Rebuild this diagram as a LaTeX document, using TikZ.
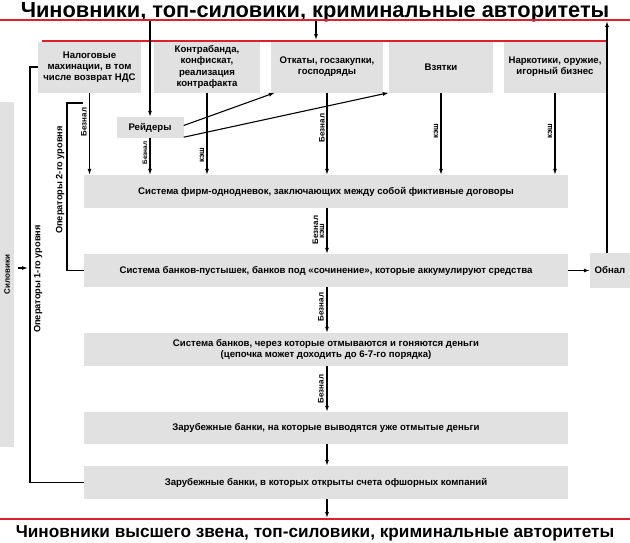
\documentclass[tikz,border=0pt]{standalone}
\usepackage{fontspec}
\setmainfont{Liberation Sans}
\usetikzlibrary{arrows.meta,calc,positioning}
\definecolor{LineRed}{RGB}{222,32,40}
\definecolor{BoxGray}{RGB}{225,225,225}
\tikzset{
  box/.style={fill=BoxGray, inner sep=0pt, align=center, font=\bfseries\fontsize{9.6}{11.2}\selectfont},
  lab/.style={rotate=90, inner sep=0pt, font=\bfseries\fontsize{8}{9}\selectfont},
  smalllab/.style={lab, font=\bfseries\fontsize{6.5}{7}\selectfont},
  oplab/.style={lab, font=\bfseries\fontsize{9.2}{10}\selectfont},
  arr/.style={-{Latex[length=6pt,width=4pt]}, line width=1.1pt},
  conn/.style={line width=1.1pt},
  redline/.style={LineRed, line width=1.6pt}
}
\begin{document}
\begin{tikzpicture}[x=1pt, y=-1pt]
	\useasboundingbox (0,0) rectangle (630,542);
	
	% заголовки и красные линии
	\node[anchor=base, inner sep=0pt, font=\bfseries\fontsize{21.8}{23}\selectfont] (top) at (315,17.5) {Чиновники, топ-силовики, криминальные авторитеты};
	\draw[redline] (0,20) -- (630,20);
	\draw[redline] (42,41) -- (607,41);
	\draw[redline] (0,519) -- (630,519);
	\node[anchor=base, inner sep=0pt, font=\bfseries\fontsize{17.2}{18}\selectfont] (bot) at (315,537) {Чиновники высшего звена, топ-силовики, криминальные авторитеты};
	\coordinate (t1) at (150,21);
	\coordinate (t2) at (316,21);
	\coordinate (t2b) at (316,40);
	\coordinate (ret) at (607,21);
	\coordinate (col) at (327,0);
	\coordinate (botrule) at (327,518);
	
	% верхний ряд
	\node[box, minimum width=103, minimum height=51] (nal) at (89.5,67) {Налоговые\\махинации, в том\\числе возврат НДС};
	\node[box, minimum width=106, minimum height=51] (kon) at (207,67) {Контрабанда,\\конфискат,\\реализация\\контрафакта};
	\node[box, minimum width=112, minimum height=51] (otk) at (327,67) {Откаты, госзакупки,\\господряды};
	\node[box, minimum width=104, minimum height=51] (vzt) at (441,67) {Взятки};
	\node[box, minimum width=103, minimum height=51] (nar) at (555,67) {Наркотики, оружие,\\игорный бизнес};
	\node[box, minimum width=67, minimum height=21] (rei) at (150,127.5) {Рейдеры};
	
	% цепочка банков
	\node[box, minimum width=484, minimum height=33] (fir) at (326,191.5) {Система фирм-однодневок, заключающих между собой фиктивные договоры};
	\node[box, minimum width=484, minimum height=33] (pus) at (326,270.5) {Система банков-пустышек, банков под «сочинение», которые аккумулируют средства};
	\node[box, minimum width=484, minimum height=33] (sys) at (326,349.5) {Система банков, через которые отмываются и гоняются деньги\\(цепочка может доходить до 6-7-го порядка)};
	\node[box, minimum width=484, minimum height=32] (zar1) at (326,428) {Зарубежные банки, на которые выводятся уже отмытые деньги};
	\node[box, minimum width=484, minimum height=33] (zar2) at (326,482.5) {Зарубежные банки, в которых открыты счета офшорных компаний};
	\node[box, minimum width=40, minimum height=35] (obn) at (610,270.5) {Обнал};
	\node[box, minimum width=14, minimum height=345, font=\bfseries\fontsize{8}{9}\selectfont] (sil) at (7,274.5) {\rotatebox{90}{Силовики}};
	
	% стрелки сверху
	\draw[arr] (t2) -- (t2b);
	\draw[arr] (t1) -- (rei.north);
	\draw[arr] (nal.south) -- (nal.south |- fir.north);
	\draw[arr] (rei.south) -- (rei.south |- fir.north);
	\draw[arr] (kon.south) -- (kon.south |- fir.north);
	\draw[arr] (otk.south) -- (otk.south |- fir.north);
	\draw[arr] (vzt.south) -- (vzt.south |- fir.north);
	\draw[arr] (nar.south) -- (nar.south |- fir.north);
	\draw[arr] ($(rei.east)+(0,-2)$) -- ($(otk.south west)+(4,0)$);
	\draw[arr] ($(rei.south east)+(0,-1)$) -- (vzt.south west);
	
	\node[lab] (b1) at (84,122) {Безнал};
	\node[smalllab] (b2) at (145,153) {Безнал};
	\node[lab] (k1) at (202,155) {кэш};
	\node[lab] (b3) at (322,128) {Безнал};
	\node[lab] (k2) at (436,131) {кэш};
	\node[lab] (k3) at (550,131) {кэш};
	
	% вниз по цепочке
	\draw[arr] (fir.south -| col) -- (pus.north -| col);
	\draw[arr] (pus.south -| col) -- (sys.north -| col);
	\draw[arr] (sys.south -| col) -- (zar1.north -| col);
	\draw[arr] (zar1.south -| col) -- (zar2.north -| col);
	\draw[arr] (zar2.south -| col) -- (botrule);
	\node[lab] (b4) at (315.5,230) {Безнал};
	\node[lab] (k4) at (322,231) {кэш};
	\node[lab] (b5) at (321,307) {Безнал};
	\node[lab] (b6) at (321,389) {Безнал};
	
	% обнал
	\draw[arr] (pus.east) -- (obn.west);
	\draw[arr] (obn.north -| ret) -- (ret);
	
	% операторы
	\coordinate (op1) at (30,0);
	\draw[conn] (nal.west) -- (nal.west -| op1) -- (op1 |- zar2.west) -- (zar2.west);
	\node[oplab] (op1lab) at (38,279) {Операторы 1-го уровня};
	\coordinate (op2) at (67,103);
	\coordinate (op2e) at (83,103);
	\draw[conn] (op2e) -- (op2) -- (op2 |- pus.west) -- (pus.west);
	\node[oplab] (op2lab) at (60,180) {Операторы 2-го уровня};
	\coordinate (silto) at (28,268);
	\draw[arr] ($(sil.east |- silto)+(4,0)$) -- (silto);
\end{tikzpicture}
\end{document}
